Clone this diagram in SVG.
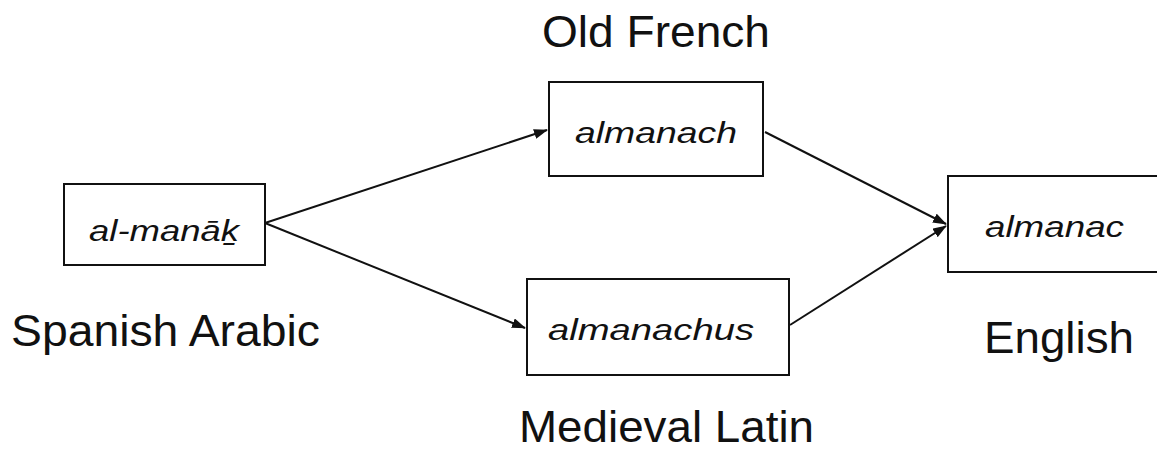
<svg xmlns="http://www.w3.org/2000/svg" width="1157" height="449" viewBox="0 0 1157 449">
<style>
.box{fill:#fff;stroke:#111;stroke-width:2}
.it{font-family:"Liberation Sans",Arial,sans-serif;font-style:italic;font-size:29px;fill:#111}
.lb{font-family:"Liberation Sans",Arial,sans-serif;font-size:45px;fill:#111}
.edge{stroke:#111;stroke-width:2;fill:none;marker-end:url(#arr)}
</style>
<defs>
<marker id="arr" markerUnits="userSpaceOnUse" markerWidth="14" markerHeight="10" refX="13" refY="5" orient="auto">
<path d="M0,0 L14,5 L0,10 z" fill="#111"/>
</marker>
</defs>
<rect width="1157" height="449" fill="#fff"/>
<g id="connectors">
<line class="edge" x1="265" y1="223" x2="547" y2="130"/>
<line class="edge" x1="265" y1="223" x2="525" y2="328"/>
<line class="edge" x1="765" y1="132" x2="946" y2="224"/>
<line class="edge" x1="790" y1="325" x2="946" y2="226"/>
</g>
<g id="spanish-arabic">
<rect class="box" x="64" y="184" width="201" height="81"/>
<text class="it" x="89" y="241" textLength="150" lengthAdjust="spacingAndGlyphs">al-manāḵ</text>
<text class="lb" x="11" y="346" textLength="309" lengthAdjust="spacingAndGlyphs">Spanish Arabic</text>
</g>
<g id="old-french">
<rect class="box" x="549" y="82" width="214" height="94"/>
<text class="it" x="575" y="143" textLength="162" lengthAdjust="spacingAndGlyphs">almanach</text>
<text class="lb" x="542" y="47" textLength="228" lengthAdjust="spacingAndGlyphs">Old French</text>
</g>
<g id="medieval-latin">
<rect class="box" x="527" y="279" width="262" height="96"/>
<text class="it" x="548" y="340" textLength="206" lengthAdjust="spacingAndGlyphs">almanachus</text>
<text class="lb" x="519" y="442" textLength="295" lengthAdjust="spacingAndGlyphs">Medieval Latin</text>
</g>
<g id="english">
<rect class="box" x="948" y="176" width="214" height="96"/>
<text class="it" x="985" y="237" textLength="139" lengthAdjust="spacingAndGlyphs">almanac</text>
<text class="lb" x="984" y="353" textLength="150" lengthAdjust="spacingAndGlyphs">English</text>
</g>
</svg>
